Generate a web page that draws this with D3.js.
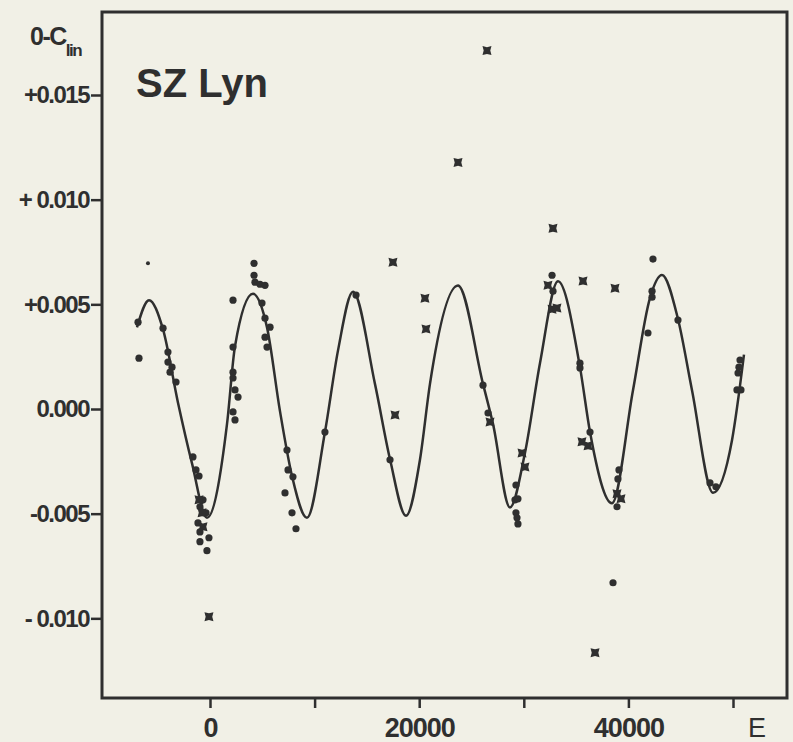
<!DOCTYPE html>
<html>
<head>
<meta charset="utf-8">
<script src="https://cdn.jsdelivr.net/npm/d3@7"></script>
<style>
	html, body { margin: 0; padding: 0; background: #f1f0e6; }
	svg { display: block; }
	.ink { fill: #2f2f2f; }
</style>
</head>
<body>
<div id="chart"></div>
<script>
// cycle number E and O-C (days) of the fitted light-time curve
var fitE = [-6980, -5830, -4490, -3060, -1720, -290, 1630, 2390, 4110, 5450, 6690, 7840, 9270,
	10990, 12240, 13670, 15770, 17210, 18740, 20080, 21030, 23710, 26100, 27050, 28680,
	30110, 31550, 33270, 35370, 36330, 38430, 40440, 42060, 43210, 44740, 46080, 48090, 49900, 51050];
var fitOC = [0.0039, 0.0052, 0.0038, 0.0003, -0.0026, -0.0052, -0.0007, 0.0030, 0.0055, 0.0039, -0.0001, -0.0032, -0.0052,
	-0.0011, 0.0028, 0.0056, 0.0012, -0.0024, -0.0051, -0.0024, 0.0012, 0.0059, 0.0012, -0.0007, -0.0047,
	-0.0021, 0.0022, 0.0061, 0.0020, -0.0011, -0.0045, 0.0009, 0.0053, 0.0064, 0.0043, 0.0009, -0.0040, -0.0015, 0.0026];

// filled circles
var dotE = [-5930, -6880, -6790, -4490, -4020, -4020, -3630, -3820, -3250, -1630, -1340, -1050,
	-670, -960, -380, -1150, -960, -960, -100, -290,
	2200, 2200, 2200, 2200, 2390, 2680, 2200, 2390,
	4210, 4210, 4300, 4780, 5260, 4970, 5260, 5740, 5260, 5450,
	7360, 7460, 7930, 7170, 7840, 8220, 10990, 13960, 17210,
	26100, 26580, 29250, 29160, 29440, 29250, 29350, 29440,
	32700, 32790, 35370, 35370, 36330, 39100, 39000, 38910, 38530,
	42350, 42260, 42260, 41870, 44740, 47800, 48370, 50670, 50570, 50480, 50380, 50760];
var dotOC = [0.00696, 0.00415, 0.00243, 0.00386, 0.00272, 0.00224, 0.00200, 0.00176, 0.00129, -0.00229, -0.00291, -0.00320,
	-0.00434, -0.00467, -0.00496, -0.00544, -0.00587, -0.00634, -0.00615, -0.00677,
	0.00520, 0.00296, 0.00176, 0.00148, 0.00091, 0.00057, -0.00014, -0.00052,
	0.00696, 0.00639, 0.00606, 0.00596, 0.00591, 0.00506, 0.00434, 0.00391, 0.00343, 0.00296,
	-0.00196, -0.00291, -0.00324, -0.00401, -0.00496, -0.00572, -0.00110, 0.00544, -0.00243,
	0.00114, -0.00019, -0.00363, -0.00434, -0.00429, -0.00496, -0.00520, -0.00549,
	0.00639, 0.00563, 0.00219, 0.00196, -0.00110, -0.00291, -0.00334, -0.00467, -0.00830,
	0.00716, 0.00563, 0.00534, 0.00363, 0.00425, -0.00353, -0.00372, 0.00234, 0.00200, 0.00172, 0.00091, 0.00091];

// crossed squares
var crossE = [-1050, -760, -670, -100, 17490, 20550, 20650, 17690, 23710, 26480, 32790,
	26770, 29830, 30110, 32310, 32700, 33170, 35660, 38720, 35560, 36140, 38910, 39290, 36810];
var crossOC = [-0.00434, -0.00496, -0.00563, -0.00992, 0.00701, 0.00529, 0.00382, -0.00029, 0.01178, 0.01712, 0.00863,
	-0.00062, -0.00210, -0.00277, 0.00591, 0.00477, 0.00482, 0.00611, 0.00577, -0.00157, -0.00176, -0.00405, -0.00429, -0.01164];

var yTicks = [0.015, 0.010, 0.005, 0, -0.005, -0.010];
var yLabels = ['+0.015', '+ 0.010', '+0.005', '0.000', '-0.005', '- 0.010'];
var xTicks = [0, 10000, 20000, 30000, 40000, 50000];
var xLabels = ['0', '', '20000', '', '40000', ''];

var width = 793, height = 742;
var ink = '#2f2f2f';
var frame = {left: 102, right: 787, top: 12, bottom: 698};

var svg = d3.select('#chart').append('svg')
	.attr('width', width)
	.attr('height', height);

svg.append('rect')
	.attr('width', width)
	.attr('height', height)
	.attr('fill', '#f1f0e6');

var x = d3.scaleLinear()
	.domain([0, 50000])
	.range([210, 733]);
var y = d3.scaleLinear()
	.domain([0, 0.015])
	.range([409, 95]);

// frame
svg.append('rect')
	.attr('x', frame.left)
	.attr('y', frame.top)
	.attr('width', frame.right - frame.left)
	.attr('height', frame.bottom - frame.top)
	.attr('fill', 'none')
	.attr('stroke', ink)
	.attr('stroke-width', 3);

var yAxis = svg.append('g')
	.attr('transform', 'translate(' + frame.left + ',0)')
	.call(d3.axisLeft(y)
		.tickValues(yTicks)
		.tickSize(11)
		.tickPadding(2)
		.tickFormat(function(d, i) { return yLabels[i]; }));
yAxis.select('.domain').remove();
yAxis.selectAll('line').attr('stroke', ink).attr('stroke-width', 2.5);
yAxis.selectAll('text')
	.attr('fill', ink)
	.style('font-family', '"Liberation Sans", Arial, sans-serif')
	.style('font-size', '24px')
	.style('font-weight', 'bold')
	.style('letter-spacing', '-1.5px');

var xAxis = svg.append('g')
	.attr('transform', 'translate(0,' + frame.bottom + ')')
	.call(d3.axisBottom(x)
		.tickValues(xTicks)
		.tickSize(10)
		.tickPadding(10)
		.tickFormat(function(d, i) { return xLabels[i]; }));
xAxis.select('.domain').remove();
xAxis.selectAll('line').attr('stroke', ink).attr('stroke-width', 2.5);
xAxis.selectAll('text')
	.attr('fill', ink)
	.style('font-family', '"Liberation Sans", Arial, sans-serif')
	.style('font-size', '27px')
	.style('font-weight', 'bold')
	.style('letter-spacing', '-1px');

svg.append('text')
	.attr('class', 'ink')
	.attr('x', x(50000) + 24)
	.attr('y', 737)
	.attr('text-anchor', 'middle')
	.style('font-family', '"Liberation Sans", Arial, sans-serif')
	.style('font-size', '27px')
	.text('E');

// axis title O-C_lin
var title = svg.append('text')
	.attr('class', 'ink')
	.attr('x', 30)
	.attr('y', 45)
	.style('font-family', '"Liberation Sans", Arial, sans-serif')
	.style('font-weight', 'bold')
	.style('letter-spacing', '-1.5px');
title.append('tspan')
	.style('font-size', '25px')
	.text('0-C');
title.append('tspan')
	.attr('dy', 11)
	.style('font-size', '17px')
	.text('lin');

svg.append('text')
	.attr('class', 'ink')
	.attr('x', 136)
	.attr('y', 97)
	.style('font-family', '"Liberation Sans", Arial, sans-serif')
	.style('font-size', '40px')
	.style('font-weight', 'bold')
	.text('SZ Lyn');

// fitted curve
var line = d3.line()
	.x(function(d, i) { return x(fitE[i]); })
	.y(function(d, i) { return y(fitOC[i]); })
	.curve(d3.curveMonotoneX);

svg.append('path')
	.datum(fitE)
	.attr('d', line)
	.attr('fill', 'none')
	.attr('stroke', ink)
	.attr('stroke-width', 2.5);

svg.append('g').selectAll('circle')
	.data(dotE)
	.join('circle')
	.attr('cx', function(d) { return x(d); })
	.attr('cy', function(d, i) { return y(dotOC[i]); })
	.attr('r', function(d, i) { return i == 0 ? 2 : 3.6; })
	.attr('fill', ink);

// crossed square: filled square with a small notch in each side
var cross = 'M-4.5,-4.5L0,-3.3L4.5,-4.5L3.3,0L4.5,4.5L0,3.3L-4.5,4.5L-3.3,0Z';
svg.append('g').selectAll('path')
	.data(crossE)
	.join('path')
	.attr('transform', function(d, i) { return 'translate(' + x(d) + ',' + y(crossOC[i]) + ')'; })
	.attr('d', cross)
	.attr('fill', ink);
</script>
</body>
</html>
